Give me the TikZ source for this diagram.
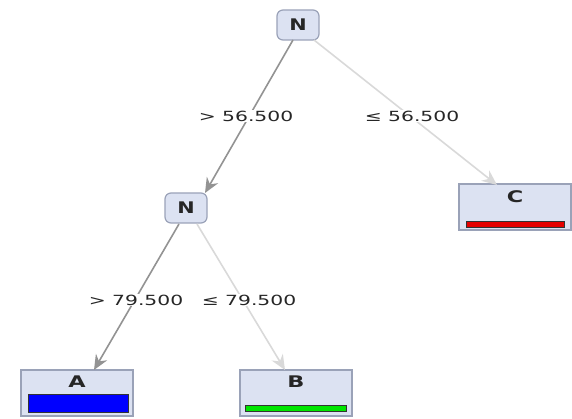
\documentclass[tikz,border=0pt]{standalone}
\usepackage{fontspec}
\setmainfont{DejaVu Sans}
\usetikzlibrary{arrows.meta}
\definecolor{boxfill}{HTML}{DCE2F2}
\definecolor{boxline}{HTML}{9AA2B8}
\begin{document}
\begin{tikzpicture}[x=1pt,y=-1pt,
  inner/.style={draw=boxline,fill=boxfill,rounded corners=6pt,line width=1.2pt,minimum width=42pt,minimum height=30pt,inner sep=0pt,font=\bfseries\fontsize{16}{16}\selectfont,text=black!85},
  leaf/.style={draw=boxline,fill=boxfill,line width=1.2pt,minimum width=112pt,minimum height=46pt,inner sep=0pt},
  leaftext/.style={font=\bfseries\fontsize{16}{16}\selectfont,text=black!85},
  edgedark/.style={draw=gray!85,line width=1.6pt,-{Stealth[length=15pt,width=13pt,inset=5pt]}},
  edgelight/.style={draw=gray!30,line width=1.6pt,-{Stealth[length=15pt,width=13pt,inset=5pt]}},
  lab/.style={fill=white,inner sep=1pt,font=\fontsize{14}{14}\selectfont,text=black!85}]
\useasboundingbox (0,0) rectangle (572,419);
\node[inner] (r) at (298,25) {\scalebox{1.3}[1]{N}};
\node[inner] (n) at (186,208) {\scalebox{1.3}[1]{N}};
\node[leaf] (c) at (515,207) {};
\node[leaf] (a) at (77,393) {};
\node[leaf] (b) at (296,393) {};
\node[leaftext] (ct) at (515,197) {\scalebox{1.4}[1]{C}};
\node[leaftext] (at) at (77,382) {\scalebox{1.4}[1]{A}};
\node[leaftext] (bt) at (296,382) {\scalebox{1.4}[1]{B}};
\node[draw=black!80,fill=red!90!black,minimum width=98pt,minimum height=6pt,inner sep=0pt,line width=0.8pt] (cb) at (515,224) {};
\node[draw=black!80,fill=blue,minimum width=100pt,minimum height=18pt,inner sep=0pt,line width=0.8pt] (ab) at (78,403) {};
\node[draw=black!80,fill=green!90!black,minimum width=101pt,minimum height=6pt,inner sep=0pt,line width=0.8pt] (bb) at (296,408) {};
\coordinate (r1) at (293,40);
\coordinate (r2) at (314,40);
\coordinate (n1) at (179,224);
\coordinate (n2) at (197,224);
\coordinate (nt) at (205,193);
\coordinate (ct1) at (497,185);
\coordinate (at1) at (94,370);
\coordinate (bt1) at (285,370);
\draw[edgedark] (r1) -- (nt);
\draw[edgelight] (r2) -- (ct1);
\draw[edgedark] (n1) -- (at1);
\draw[edgelight] (n2) -- (bt1);
\node[lab] (l1) at (246,116) {\scalebox{1.45}[1]{> 56.500}};
\node[lab] (l2) at (412,116) {\scalebox{1.45}[1]{≤ 56.500}};
\node[lab] (l3) at (136,300) {\scalebox{1.45}[1]{> 79.500}};
\node[lab] (l4) at (249,300) {\scalebox{1.45}[1]{≤ 79.500}};
\end{tikzpicture}
\end{document}
